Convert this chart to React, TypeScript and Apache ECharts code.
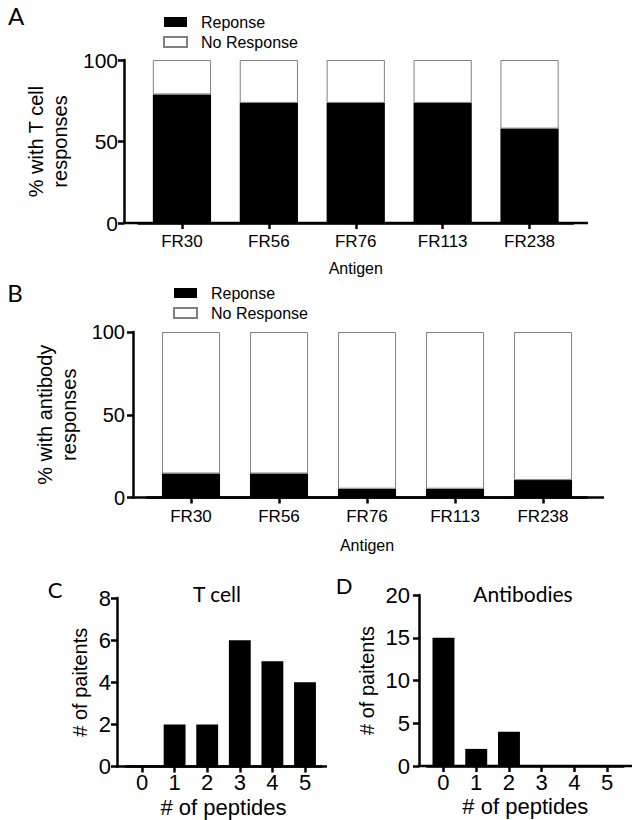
import React, { useEffect, useRef } from "react";
import * as echarts from "echarts";

// ---------- data ----------
const antigens = ["FR30", "FR56", "FR76", "FR113", "FR238"];
const tcellResponse = [78.9, 73.7, 73.7, 73.7, 57.9];
const tcellNoResponse = [21.1, 26.3, 26.3, 26.3, 42.1];
const antibodyResponse = [14.5, 14.5, 5.3, 5.3, 10.5];
const antibodyNoResponse = [85.5, 85.5, 94.7, 94.7, 89.5];
const peptideCounts = ["0", "1", "2", "3", "4", "5"];
const tcellPatients = [0, 2, 2, 6, 5, 4];
const antibodyPatients = [15, 2, 4, 0, 0, 0];
const legendNames = ["Reponse", "No Response"];

// ---------- layout ----------
const ARIAL = "'Liberation Sans', Arial, Helvetica, sans-serif";
const CAL = "Lato, 'Open Sans', sans-serif";
const AXW = 2.5;

type Panel = {
  axisX: number; left: number; width: number; top: number; bottom: number; lineEnd: number;
};
const PA: Panel = { axisX: 124, left: 138.5, width: 434.5, top: 60, bottom: 223, lineEnd: 588 };
const PB: Panel = { axisX: 133, left: 147, width: 440, top: 332, bottom: 497.5, lineEnd: 604 };
const PC: Panel = { axisX: 117, left: 125.7, width: 195.6, top: 598, bottom: 766.5, lineEnd: 327 };
const PD: Panel = { axisX: 419, left: 427.1, width: 196.5, top: 595, bottom: 766, lineEnd: 632 };

function grid(p: Panel) {
  return {
    left: p.left,
    top: p.top,
    width: p.width,
    height: p.bottom - p.top,
    containLabel: false,
    outerBoundsMode: "none",
  };
}

function xAxis(gridIndex: number, data: string[], name: string, o: {
  labelSize: number; labelMargin: number; nameSize: number; nameGap: number; nameLH: number;
}) {
  return {
    type: "category",
    gridIndex,
    data,
    name,
    nameLocation: "middle",
    nameGap: o.nameGap,
    nameTextStyle: { fontSize: o.nameSize, fontFamily: ARIAL, color: "#000", lineHeight: o.nameLH },
    axisLine: { show: true, lineStyle: { color: "#000", width: AXW } },
    axisTick: { show: true, alignWithLabel: true, length: 6, lineStyle: { color: "#000", width: AXW } },
    axisLabel: { fontSize: o.labelSize, fontFamily: ARIAL, color: "#000", margin: o.labelMargin, lineHeight: o.labelSize + 4 },
    splitLine: { show: false },
  };
}

function yAxis(gridIndex: number, p: Panel, max: number, interval: number, name: string, o: {
  labelSize: number; labelMargin: number; nameGap: number;
}) {
  return {
    type: "value",
    gridIndex,
    min: 0,
    max,
    interval,
    offset: p.left - p.axisX,
    name,
    nameLocation: "middle",
    nameRotate: 90,
    nameGap: o.nameGap,
    nameTextStyle: { fontSize: 20, fontFamily: ARIAL, color: "#000", lineHeight: 24 },
    axisLine: { show: true, lineStyle: { color: "#000", width: AXW } },
    axisTick: { show: true, length: 6, lineStyle: { color: "#000", width: AXW } },
    axisLabel: { fontSize: o.labelSize, fontFamily: ARIAL, color: "#000", margin: o.labelMargin },
    splitLine: { show: false },
  };
}

function baseLine(p: Panel) {
  return {
    type: "line",
    z: 100,
    silent: true,
    shape: { x1: p.axisX - AXW / 2, y1: p.bottom, x2: p.lineEnd, y2: p.bottom },
    style: { stroke: "#000", lineWidth: AXW },
  };
}

function label(text: string, x: number, y: number, size: number) {
  return {
    type: "text",
    x,
    y,
    silent: true,
    style: {
      text,
      fontSize: size,
      fontFamily: CAL,
      fill: "#000",
      align: "center",
      verticalAlign: "middle",
    },
  };
}

function legend(left: number, top: number) {
  return {
    data: legendNames,
    orient: "vertical",
    left,
    top,
    itemWidth: 23,
    itemHeight: 10,
    itemGap: 4,
    icon: "rect",
    selectedMode: false,
    padding: 0,
    textStyle: { fontSize: 16, fontFamily: ARIAL, color: "#000", padding: [0, 0, 0, 9] },
  };
}

const blackStyle = { color: "#000" };
const whiteStyle = { color: "#fff", borderColor: "#808080", borderWidth: 1 };

export default function App() {
  const ref = useRef<HTMLDivElement>(null);

  useEffect(() => {
    if (!ref.current) return;
    const chart = echarts.init(ref.current, null, { renderer: "svg" });
    const option: any = {
      animation: false,
      backgroundColor: "#fff",
      legend: [legend(163, 14), legend(173, 285)],
      grid: [grid(PA), grid(PB), grid(PC), grid(PD)],
      xAxis: [
        xAxis(0, antigens, "Antigen", { labelSize: 17, labelMargin: 8, nameSize: 16, nameGap: 35, nameLH: 20 }),
        xAxis(1, antigens, "Antigen", { labelSize: 17, labelMargin: 8, nameSize: 16, nameGap: 37.5, nameLH: 20 }),
        xAxis(2, peptideCounts, "# of peptides", { labelSize: 22, labelMargin: 3, nameSize: 22, nameGap: 23, nameLH: 22 }),
        xAxis(3, peptideCounts, "# of peptides", { labelSize: 22, labelMargin: 3, nameSize: 22, nameGap: 23.5, nameLH: 22 }),
      ],
      yAxis: [
        yAxis(0, PA, 100, 50, "% with T cell\nresponses", { labelSize: 21, labelMargin: 6, nameGap: 44 }),
        yAxis(1, PB, 100, 50, "% with antibody\nresponses", { labelSize: 20, labelMargin: 8, nameGap: 44 }),
        yAxis(2, PC, 8, 2, "# of paitents", { labelSize: 22, labelMargin: 6, nameGap: 25 }),
        yAxis(3, PD, 20, 5, "# of paitents", { labelSize: 22, labelMargin: 9, nameGap: 40 }),
      ],
      series: [
        { type: "bar", name: "Reponse", xAxisIndex: 0, yAxisIndex: 0, stack: "a", data: tcellResponse, itemStyle: blackStyle, barCategoryGap: "33%" },
        { type: "bar", name: "No Response", xAxisIndex: 0, yAxisIndex: 0, stack: "a", data: tcellNoResponse, itemStyle: whiteStyle, barCategoryGap: "33%" },
        { type: "bar", name: "Reponse", xAxisIndex: 1, yAxisIndex: 1, stack: "b", data: antibodyResponse, itemStyle: blackStyle, barCategoryGap: "34%" },
        { type: "bar", name: "No Response", xAxisIndex: 1, yAxisIndex: 1, stack: "b", data: antibodyNoResponse, itemStyle: whiteStyle, barCategoryGap: "34%" },
        { type: "bar", name: "T cell", xAxisIndex: 2, yAxisIndex: 2, data: tcellPatients, itemStyle: blackStyle, barCategoryGap: "33%" },
        { type: "bar", name: "Antibodies", xAxisIndex: 3, yAxisIndex: 3, data: antibodyPatients, itemStyle: blackStyle, barCategoryGap: "33%" },
      ],
      graphic: [
        baseLine(PA),
        baseLine(PB),
        baseLine(PC),
        baseLine(PD),
        label("A", 16, 15, 24),
        label("B", 15, 292, 24),
        label("C", 55, 589, 22),
        label("D", 344, 585, 22),
        label("T cell", 217, 593, 21),
        label("Antibodies", 523, 593, 21),
      ],
    };
    chart.setOption(option);
    return () => chart.dispose();
  }, []);

  return (
    <div
      ref={ref}
      style={{ position: "fixed", left: 0, top: 0, width: 632, height: 820, background: "#fff" }}
    />
  );
}
